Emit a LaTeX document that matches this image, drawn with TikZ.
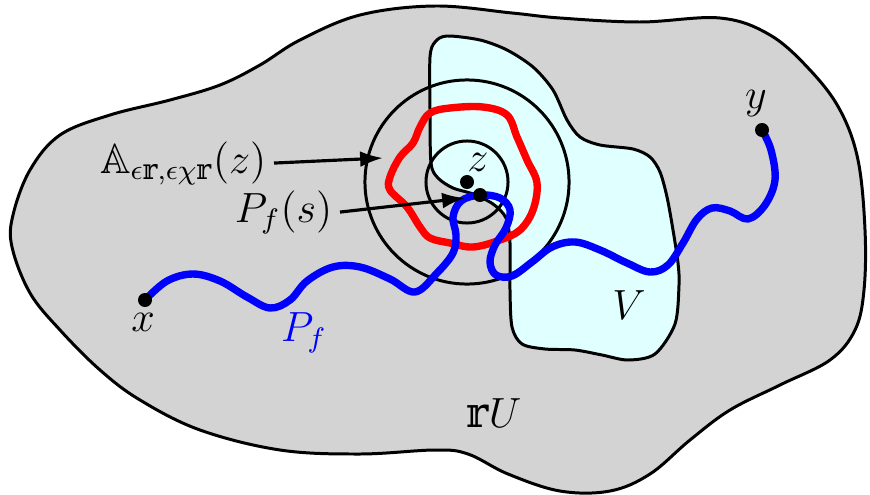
\documentclass[tikz,border=0pt]{standalone}
\usepackage{amsmath}
\usepackage{amssymb}
\usepackage{fontspec}
\usepackage{tikz}
\usetikzlibrary{arrows.meta}
\usepackage{xcolor}

\newfontfamily\bbfont{DejaVu Serif}
\newcommand{\bbr}{\text{\bbfont 𝕣}}

\definecolor{setgray}{RGB}{211,211,211}
\definecolor{setcyan}{RGB}{224,255,255}

\tikzset{
    boundary/.style={line width=0.85pt},
    walk/.style={line width=2.1pt, line cap=round, line join=round},
    pointer/.style={line width=0.9pt, -{Latex[length=6.5pt,width=4.5pt]}},
    tag/.style={inner sep=2pt, font=\large},
}

\begin{document}
\begin{tikzpicture}[x=0.01cm,y=-0.01cm]
        \useasboundingbox (0,0) rectangle (870,494);

        \coordinate (X) at (145,300);
        \coordinate (Y) at (762,130);
        \coordinate (Z) at (467,182);
        \coordinate (S) at (480,195);

        % the set rU
        \draw[boundary, fill=setgray] plot[smooth cycle, tension=0.6] coordinates {
            (435,6) (512,13) (560,18) (640,22) (720,18) (770,35) (810,70)
            (840,110) (858,160) (865,230) (864,290) (855,330) (830,360)
            (780,385) (730,410) (690,440) (650,474) (610,491) (560,491)
            (508,474) (468,454) (435,450) (360,454) (280,450) (200,430)
            (140,400) (100,370) (60,330) (30,293) (12,247) (13,215)
            (30,170) (60,135) (110,115) (170,100) (220,85) (260,65)
            (300,40) (360,15)};

        % the set V
        \draw[boundary, fill=setcyan] plot[smooth cycle, tension=0.5] coordinates {
            (430,57) (435,42) (447,36) (480,40) (507,50) (533,67) (553,90)
            (567,120) (580,137) (600,145) (633,149) (650,157) (660,172)
            (667,197) (673,230) (678,263) (679,285) (675,324) (655,354)
            (628,360) (602,355) (575,350) (545,349) (522,344) (512,327)
            (510,290) (510,243) (506,218) (493,204) (473,194) (453,188)
            (438,178) (431,163) (430,110)};

        % annulus
        \draw[boundary] (Z) circle (0.41cm);
        \draw[boundary] (Z) circle (1.02cm);

        \draw[walk, red] plot[smooth cycle, tension=0.6] coordinates {
            (450,108) (483,107) (507,115) (517,137) (527,160) (537,183)
            (533,210) (520,230) (500,240) (473,247) (450,243) (430,238)
            (420,227) (407,207) (390,190) (390,177) (400,157) (413,143)
            (420,127) (430,113)};

        \draw[walk, blue] plot[smooth, tension=0.6] coordinates {
            (X) (167,281) (193,274) (220,281) (247,297) (270,308) (290,300)
            (307,281) (333,267) (360,267) (390,279) (415,292) (437,273)
            (453,253) (456,235) (453,217) (461,201) (S) (500,198) (510,210)
            (506,228) (495,245) (490,262) (496,275) (512,276) (532,262)
            (552,247) (575,242) (600,250) (627,263) (650,272) (668,265)
            (683,243) (697,219) (712,208) (730,211) (748,219) (765,205)
            (775,180) (771,150) (Y)};

        % labels and pointers
        \node[tag, anchor=base east] (Alab) at (274,173)
            {$\mathbb{A}_{\epsilon\bbr,\epsilon\chi\bbr}(z)$};
        \node[tag, anchor=base east] (Slab) at (340,222) {$P_f(s)$};
        \coordinate (Atip) at (383,158);
        \coordinate (Stip) at (465,198);
        \draw[pointer] (Alab.east) -- (Atip);
        \draw[pointer] (Slab.east) -- (Stip);

        \fill (X) circle (0.07cm);
        \fill (Y) circle (0.07cm);
        \fill (Z) circle (0.07cm);
        \fill (S) circle (0.07cm);

        \node[tag] (xlab) at (143,322) {$x$};
        \node[tag] (ylab) at (756,104) {$y$};
        \node[tag] (zlab) at (478,162) {$z$};
        \node[tag, blue] (Pflab) at (304,333) {$P_f$};
        \node[tag] (Vlab) at (629,305) {$V$};
        \node[tag] (Ulab) at (494,413) {$\bbr U$};
    \end{tikzpicture}
\end{document}
